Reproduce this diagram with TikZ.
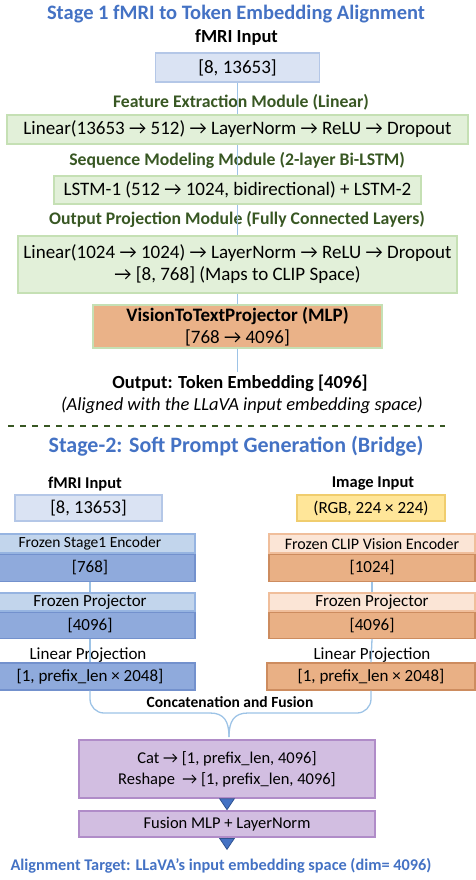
\documentclass[tikz,border=0pt]{standalone}
\usepackage{fontspec}
\setmainfont{Carlito}
\usetikzlibrary{arrows.meta,positioning}
\definecolor{titleblue}{RGB}{68,114,196}
\definecolor{modgreen}{RGB}{56,87,35}
\definecolor{inblue}{RGB}{218,227,243}
\definecolor{inblueline}{RGB}{180,199,231}
\definecolor{modfill}{RGB}{226,240,217}
\definecolor{modline}{RGB}{197,224,180}
\definecolor{projorange}{RGB}{234,178,136}
\definecolor{linkblue}{RGB}{157,195,230}
\definecolor{headblue}{RGB}{194,213,236}
\definecolor{headblueline}{RGB}{150,180,225}
\definecolor{valblue}{RGB}{143,170,220}
\definecolor{valblueline}{RGB}{115,145,205}
\definecolor{headorange}{RGB}{251,229,214}
\definecolor{headorangeline}{RGB}{240,190,155}
\definecolor{valorange}{RGB}{233,176,133}
\definecolor{valorangeline}{RGB}{205,140,95}
\definecolor{imgyellow}{RGB}{255,230,153}
\definecolor{imgyellowline}{RGB}{240,205,110}
\definecolor{fusepurple}{RGB}{210,190,225}
\definecolor{fuseline}{RGB}{176,140,200}
\definecolor{tipblue}{RGB}{47,82,143}

\begin{document}
\begin{tikzpicture}[x=1pt,y=-1pt,
      stagetitle/.style={font=\fontsize{20.5}{24}\selectfont\bfseries,text=titleblue},
      inlabel/.style={font=\fontsize{18.5}{22}\selectfont\bfseries},
      modlabel/.style={font=\fontsize{17.7}{21}\selectfont\bfseries,text=modgreen},
      note/.style={font=\fontsize{18.5}{22}\selectfont\itshape},
      sublabel/.style={font=\fontsize{17}{20}\selectfont},
      box/.style={
         rectangle,
         inner sep=0pt,
         line width=1.3pt,
         align=center,
         font=\fontsize{19}{22}\selectfont
      },
      inputbox/.style={box,fill=inblue,draw=inblueline},
      module/.style={box,fill=modfill,draw=modline},
      projector/.style={box,fill=projorange,draw=modline},
      smallbox/.style={box,font=\fontsize{17}{21}\selectfont},
      bluehead/.style={smallbox,fill=headblue,draw=headblueline,minimum width=210,minimum height=19},
      blueval/.style={smallbox,fill=valblue,draw=valblueline,minimum width=210,minimum height=27},
      orangehead/.style={smallbox,fill=headorange,draw=headorangeline,minimum width=206,minimum height=19},
      orangeval/.style={smallbox,fill=valorange,draw=valorangeline,minimum width=206,minimum height=27},
      fusebox/.style={box,font=\fontsize{16.5}{21}\selectfont,fill=fusepurple,draw=fuseline,minimum width=296},
      link/.style={draw=linkblue,line width=1.3pt},
      tip/.style={draw=tipblue,line width=0.8pt,-{Triangle[width=16pt,length=12pt,fill=titleblue]}}
    ]
    \useasboundingbox (0,0) rectangle (475,880);
    % stage 1
    \node (title1) [stagetitle] at (236,14) {Stage 1 fMRI to Token Embedding Alignment};
    \node (in1lbl) [inlabel] at (236.5,38) {fMRI Input};
    \node (in1) [inputbox,minimum width=164,minimum height=29] at (237.5,67.5) {[8, 13653]};
    \node (felbl) [modlabel] at (241,102) {Feature Extraction Module (Linear)};
    \node (fe) [module,minimum width=461,minimum height=29] at (237.5,129.5) {Linear(13653 → 512) → LayerNorm → ReLU → Dropout};
    \node (smlbl) [modlabel] at (237,160) {Sequence Modeling Module (2-layer Bi-LSTM)};
    \node (sm) [module,minimum width=367,minimum height=28] at (237.5,190) {LSTM-1 (512 → 1024, bidirectional) + LSTM-2};
    \node (oplbl) [modlabel] at (237,219) {Output Projection Module (Fully Connected Layers)};
    \node (op) [module,minimum width=439,minimum height=57] at (237.5,264.5) {Linear(1024 → 1024) → LayerNorm → ReLU → Dropout\\→ [8, 768] (Maps to CLIP Space)};
    \node (vt) [projector,minimum width=289,minimum height=43] at (237.5,326.5) {\textbf{VisionToTextProjector (MLP)}\\{}[768 → 4096]};
    \coordinate (out1) at (237.5,372);
    \node (outlbl) [inlabel] at (240,383) {Output: Token Embedding [4096]};
    \node (outnote) [note] at (242,405) {(Aligned with the LLaVA input embedding space)};
    \coordinate (sepl) at (8,426);
    \coordinate (sepr) at (445,426);
    \draw[link] (in1.south) -- (fe.north);
    \draw[link] (fe.south) -- (sm.north);
    \draw[link] (sm.south) -- (op.north);
    \draw[link] (op.south) -- (vt.north);
    \draw[link] (vt.south) -- (out1);
    \draw[modgreen,line width=1.5pt,dash pattern=on 6pt off 6pt] (sepl) -- (sepr);
    % stage 2
    \node (title2) [stagetitle,font=\fontsize{22}{26}\selectfont\bfseries] at (236,446) {Stage-2: Soft Prompt Generation (Bridge)};
    \node (lin1lbl) [inlabel,font=\fontsize{16.5}{19}\selectfont\bfseries] at (85,484) {fMRI Input};
    \node (lin1) [inputbox,font=\fontsize{18.5}{21}\selectfont,minimum width=147,minimum height=26] at (88.5,508) {[8, 13653]};
    \node (lenc) [bluehead,font=\fontsize{15.5}{19}\selectfont] at (90,543.5) {Frozen Stage1 Encoder};
    \node (lencv) [blueval,below=0pt of lenc] {[768]};
    \node (lproj) [bluehead,minimum height=18] at (90,602) {Frozen Projector};
    \node (lprojv) [blueval,minimum height=26,below=0pt of lproj] {[4096]};
    \node (llplbl) [sublabel] at (88,655) {Linear Projection};
    \node (llp) [blueval] at (90,676.5) {[1, prefix\_len × 2048]};
    \node (rin1lbl) [inlabel,font=\fontsize{16.5}{19}\selectfont\bfseries] at (373,484) {Image Input};
    \node (rin1) [smallbox,fill=imgyellow,draw=imgyellowline,minimum width=148,minimum height=26] at (371,508) {(RGB, 224 × 224)};
    \node (renc) [orangehead,font=\fontsize{16}{19}\selectfont] at (372,543.5) {Frozen CLIP Vision Encoder};
    \node (rencv) [orangeval,below=0pt of renc] {[1024]};
    \node (rproj) [orangehead,minimum height=18] at (372,602) {Frozen Projector};
    \node (rprojv) [orangeval,minimum height=26,below=0pt of rproj] {[4096]};
    \node (rlplbl) [sublabel] at (372,655) {Linear Projection};
    \node (rlp) [orangeval,minimum width=208] at (371,676.5) {[1, prefix\_len × 2048]};
    \draw[link] (lencv.south) -- (lproj.north);
    \draw[link] (rencv.south) -- (rproj.north);
    \draw[link] (lprojv.south) -- (llp.north);
    \draw[link] (rprojv.south) -- (rlp.north);
    % brace
    \coordinate (cusp) at (229,737);
    \coordinate (bracel) at (210,713);
    \coordinate (bracer) at (248,713);
    \draw[link,rounded corners=14pt] (llp.south) |- (bracel);
    \draw[link,rounded corners=14pt] (rlp.south) |- (bracer);
    \draw[link] (bracel) .. controls (224,713) and (229,721) .. (cusp);
    \draw[link] (bracer) .. controls (234,713) and (229,721) .. (cusp);
    \node (catlbl) [inlabel,font=\fontsize{15.5}{18}\selectfont\bfseries] at (230,702) {Concatenation and Fusion};
    \node (cat) [fusebox,minimum height=58] at (227,769) {Cat → [1, prefix\_len, 4096]\\Reshape \ → [1, prefix\_len, 4096]};
    \node (fus) [fusebox,minimum height=26] at (227,824) {Fusion MLP + LayerNorm};
    \coordinate (tgt) at (227,850);
    \draw[tip] (cat.south) -- (fus.north);
    \draw[tip] (fus.south) -- (tgt);
    \node (tgtlbl) [stagetitle,font=\fontsize{16.3}{19}\selectfont\bfseries] at (221,866) {Alignment Target: LLaVA’s input embedding space (dim= 4096)};
\end{tikzpicture}
\end{document}
